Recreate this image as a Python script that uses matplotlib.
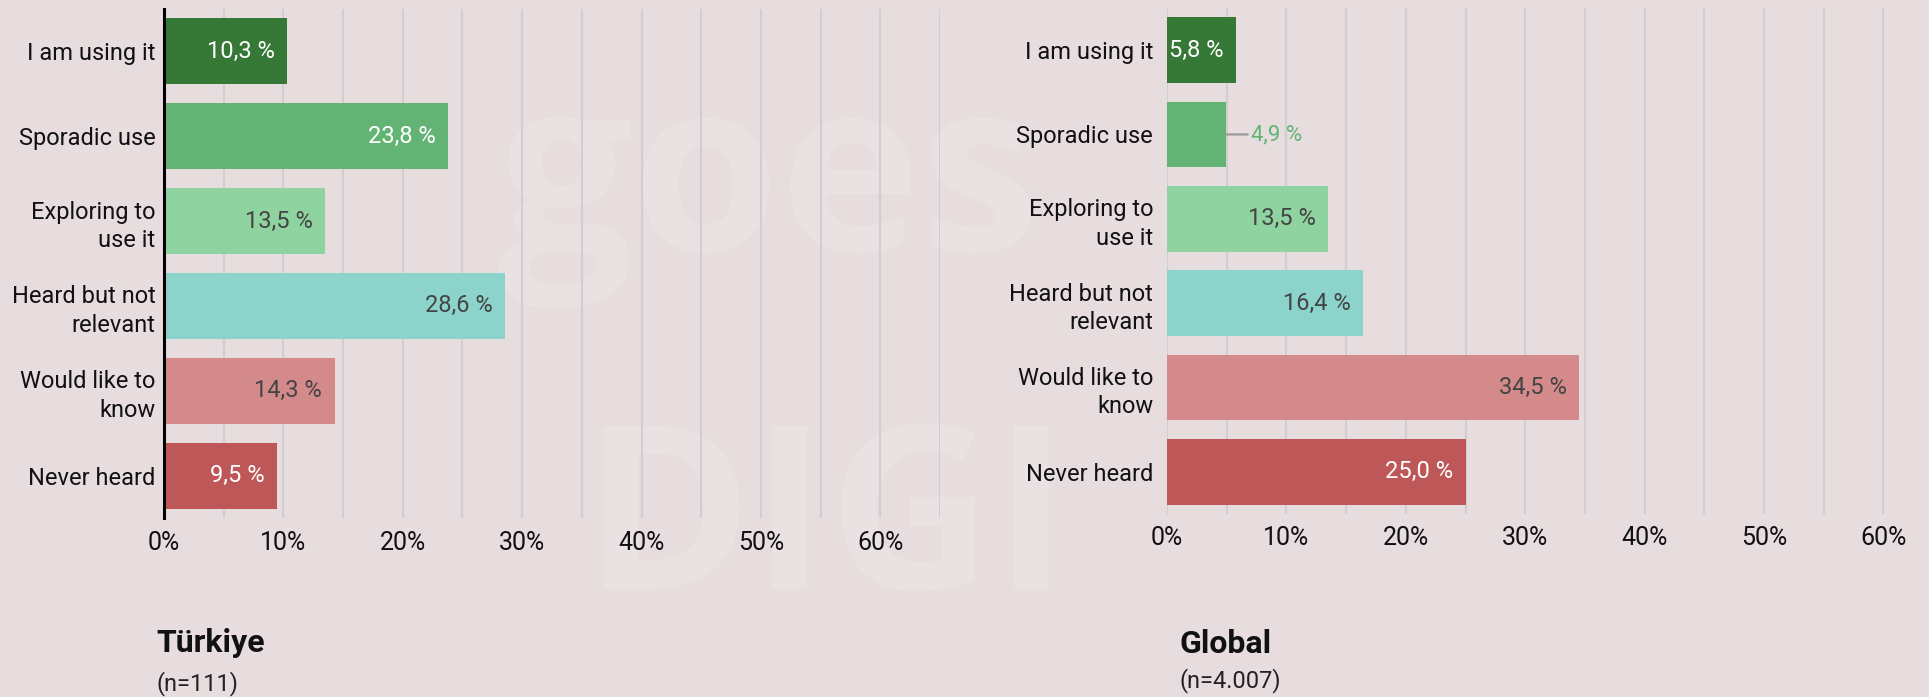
import matplotlib
matplotlib.use('Agg')
import matplotlib.pyplot as plt
from matplotlib.ticker import MultipleLocator, FuncFormatter

plt.rcParams['font.family'] = ['Roboto', 'DejaVu Sans']

# data
categories = ['I am using it', 'Sporadic use', 'Exploring to\nuse it',
              'Heard but not\nrelevant', 'Would like to\nknow', 'Never heard']
turkiye_values = [10.3, 23.8, 13.5, 28.6, 14.3, 9.5]
global_values = [5.8, 4.9, 13.5, 16.4, 34.5, 25.0]
panel_titles = ['Türkiye', 'Global']
panel_notes = ['(n=111)', '(n=4.007)']

bar_colors = ['#367836', '#63b474', '#8fd4a0', '#8cd4cb', '#d48a8a', '#be5858']
label_colors = ['white', 'white', '#444444', '#444444', '#444444', 'white']
BG = '#e8ddde'


def fmt_val(v):
    return ('%.1f' % v).replace('.', ',') + ' %'


def draw_panel(ax, values, left_spine, ylab_pad):
    ypos = list(range(len(categories)))
    ax.barh(ypos, values, height=0.78, color=bar_colors, zorder=2)
    ax.set_xlim(0, 65)
    ax.set_ylim(len(categories) - 0.5, -0.5)
    ax.set_yticks(ypos)
    ax.set_yticklabels(categories, fontsize=17, color='#111111', linespacing=1.3)
    ax.xaxis.set_major_locator(MultipleLocator(10))
    ax.xaxis.set_minor_locator(MultipleLocator(5))
    ax.xaxis.set_major_formatter(FuncFormatter(lambda x, p: '%d%%' % x))
    ax.tick_params(axis='x', which='both', length=0, pad=9, labelsize=18, labelcolor='#111111')
    ax.tick_params(axis='y', length=0, pad=ylab_pad)
    ax.grid(axis='x', which='both', color='#cfcfcf', lw=1.5, zorder=1)
    ax.set_axisbelow(True)
    for s in ['top', 'right', 'bottom', 'left']:
        ax.spines[s].set_visible(False)
    if left_spine:
        ax.spines['left'].set_visible(True)
        ax.spines['left'].set_linewidth(2.2)
        ax.spines['left'].set_color('black')
        ax.spines['left'].set_zorder(3)
    ax.patch.set_alpha(0)

    for i, v in enumerate(values):
        if v < 5:
            # too small for an inside label: put it outside with a leader line
            ax.annotate(fmt_val(v), xy=(v, i), xytext=(18, 0), textcoords='offset points',
                        ha='left', va='center', fontsize=16, color=bar_colors[i],
                        arrowprops=dict(arrowstyle='-', color='#999999', lw=1.6,
                                        shrinkA=0, shrinkB=0, relpos=(0, 0.5)))
        else:
            ax.annotate(fmt_val(v), xy=(v, i), xytext=(-9, 0), textcoords='offset points',
                        ha='right', va='center', fontsize=17, color=label_colors[i])


fig = plt.figure(figsize=(19.29, 6.97), dpi=100)
fig.patch.set_facecolor(BG)

# faint watermark
fig.text(0.258, 0.64, 'goes', fontsize=172, fontweight='bold', family='Open Sans',
         color='white', alpha=0.13, zorder=-1, ha='left', va='baseline')
fig.text(0.302, 0.155, 'DIGI', fontsize=165, fontweight='bold', family='Open Sans',
         color='white', alpha=0.13, zorder=-1, ha='left', va='baseline')

ax1 = fig.add_axes([0.0850, 0.2568, 0.4023, 0.7303])
ax2 = fig.add_axes([0.6050, 0.2626, 0.4023, 0.7260])
draw_panel(ax1, turkiye_values, True, 6)
draw_panel(ax2, global_values, False, 10)

fig.text(0.0809, 0.0646, panel_titles[0], fontsize=23, fontweight='bold', color='#111111')
fig.text(0.0809, 0.010, panel_notes[0], fontsize=17, color='#222222')
fig.text(0.6112, 0.0630, panel_titles[1], fontsize=23, fontweight='bold', color='#111111')
fig.text(0.6112, 0.013, panel_notes[1], fontsize=17, color='#222222')

fig.savefig('out.png', dpi=100, facecolor=BG)
